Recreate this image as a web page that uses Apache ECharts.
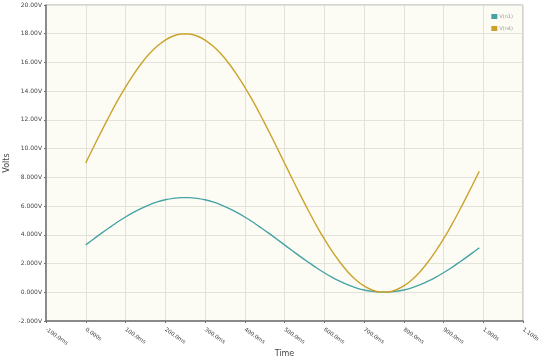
<!DOCTYPE html>
<html>
<head>
<meta charset="utf-8">
<script src="https://cdn.jsdelivr.net/npm/echarts@6/dist/echarts.min.js"></script>
<style>html,body{margin:0;padding:0;background:#fff}#c{width:540px;height:362px}</style>
</head>
<body>
<div id="c"></div>
<script>
// time in ms
const timeMs = [0,20,40,60,80,100,120,140,160,180,200,220,240,260,280,300,320,340,360,380,400,420,440,460,480,500,520,540,560,580,600,620,640,660,680,700,720,740,760,780,800,820,840,860,880,900,920,940,960,980,990];
const vn1 = [3.30,3.71,4.12,4.51,4.89,5.24,5.56,5.84,6.09,6.29,6.44,6.54,6.59,6.59,6.54,6.44,6.29,6.09,5.84,5.56,5.24,4.89,4.51,4.12,3.71,3.30,2.89,2.48,2.09,1.71,1.36,1.04,0.76,0.51,0.31,0.16,0.06,0.01,0.01,0.06,0.16,0.31,0.51,0.76,1.04,1.36,1.71,2.09,2.48,2.89,3.09];
const vn4 = [9.00,10.13,11.24,12.31,13.34,14.29,15.16,15.93,16.60,17.14,17.56,17.84,17.98,17.98,17.84,17.56,17.14,16.60,15.93,15.16,14.29,13.34,12.31,11.24,10.13,9.00,7.87,6.76,5.69,4.66,3.71,2.84,2.07,1.40,0.86,0.44,0.16,0.02,0.02,0.16,0.44,0.86,1.40,2.07,2.84,3.71,4.66,5.69,6.76,7.87,8.43];
const seriesNames = ["V(n1)", "V(n4)"];
const xMin = -100, xMax = 1100, xStep = 100;
const yMin = -2, yMax = 20, yStep = 2;

function pairs(xs, ys){ return xs.map((x,i)=>[x, ys[i]]); }
function fmtX(v){
  v = Math.round(v);
  if (v === 0) return "0.000s";
  if (Math.abs(v) >= 1000) return (v/1000).toFixed(3) + "s";
  return v.toFixed(1) + "ms";
}
function fmtY(v){
  v = Math.round(v*1000)/1000;
  return (Math.abs(v) >= 10 ? v.toFixed(2) : v.toFixed(3)) + "V";
}

const chart = echarts.init(document.getElementById('c'), null, {renderer:'canvas'});
chart.setOption({
  animation: false,
  backgroundColor: '#ffffff',
  textStyle: {fontFamily: 'DejaVu Sans'},
  grid: {left: 46, right: 17, top: 5, bottom: 41, containLabel: false, outerBoundsMode: 'none',
         show: true, backgroundColor: '#fdfcf4', borderColor: '#a8a8a8', borderWidth: 1},
  legend: {
    orient: 'vertical', right: 22, top: 9, itemWidth: 6, itemHeight: 5, itemGap: 7,
    icon: 'rect', textStyle: {fontSize: 5, color: '#999', padding: [0,0,0,-3]},
    data: seriesNames
  },
  xAxis: {
    type: 'value', min: xMin, max: xMax, interval: xStep,
    name: 'Time', nameLocation: 'middle', nameGap: 29, nameMoveOverlap: false,
    nameTextStyle: {fontSize: 8, color: '#444'},
    axisLine: {show: true, onZero: false, lineStyle: {color: '#707070', width: 1.5}},
    axisTick: {show: true, length: 2, lineStyle: {color: '#707070'}},
    axisLabel: {rotate: -35, fontSize: 5.5, color: '#444', margin: 8, formatter: fmtX},
    splitLine: {show: true, lineStyle: {color: '#e2e2da', width: 1}}
  },
  yAxis: {
    type: 'value', min: yMin, max: yMax, interval: yStep,
    name: 'Volts', nameLocation: 'middle', nameGap: 35, nameMoveOverlap: false,
    nameTextStyle: {fontSize: 8, color: '#444'},
    axisLine: {show: true, onZero: false, lineStyle: {color: '#707070', width: 1.5}},
    axisTick: {show: true, length: 2, lineStyle: {color: '#707070'}},
    axisLabel: {fontSize: 6, color: '#444', margin: 4, formatter: fmtY},
    splitLine: {show: true, lineStyle: {color: '#e2e2da', width: 1}}
  },
  series: [
    {name: seriesNames[0], type: 'line', data: pairs(timeMs, vn1), smooth: 0.3, showSymbol: false,
     lineStyle: {color: '#45a3a6', width: 1.4}, itemStyle: {color: '#45a3a6'}},
    {name: seriesNames[1], type: 'line', data: pairs(timeMs, vn4), smooth: 0.3, showSymbol: false,
     lineStyle: {color: '#cba22c', width: 1.4}, itemStyle: {color: '#cba22c'}}
  ]
});
</script>
</body>
</html>
